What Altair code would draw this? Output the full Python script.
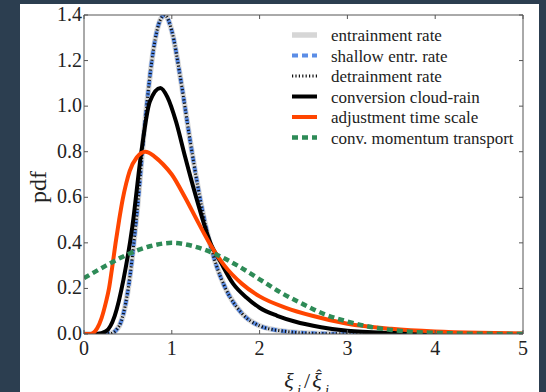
import altair as alt
import pandas as pd

# ---------------- data ----------------
# entrainment / shallow entrainment / detrainment share one curve
ent_x = [0, 0.3, 0.4, 0.5, 0.6, 0.7, 0.8, 0.86, 0.92, 1.0, 1.1, 1.2, 1.3, 1.4, 1.5,
         1.6, 1.8, 2.0, 2.3, 2.6, 3.0, 5.0]
ent_y = [0, 0.002, 0.035, 0.19, 0.52, 0.95, 1.27, 1.37, 1.40, 1.33, 1.12, 0.87, 0.64,
         0.45, 0.31, 0.21, 0.09, 0.036, 0.011, 0.003, 0.0005, 0]

conv_x = [0, 0.15, 0.25, 0.35, 0.45, 0.55, 0.65, 0.75, 0.87, 0.95, 1.05, 1.15, 1.3,
          1.45, 1.55, 1.7, 1.85, 2.0, 2.2, 2.4, 2.7, 3.0, 3.5, 4.0, 5.0]
conv_y = [0, 0, 0.012, 0.08, 0.24, 0.47, 0.79, 1.02, 1.08, 1.04, 0.93, 0.78, 0.57,
          0.39, 0.32, 0.22, 0.16, 0.115, 0.08, 0.055, 0.03, 0.014, 0.005, 0.002, 0]

adj_x = [0, 0.08, 0.1, 0.15, 0.2, 0.25, 0.285, 0.32, 0.36, 0.4, 0.44, 0.48, 0.52, 0.6,
         0.7, 0.8, 0.9, 1.0, 1.15, 1.3, 1.45, 1.6, 1.8, 2.0, 2.3, 2.6, 3.0, 3.5, 4.0,
         4.5, 5.0]
adj_y = [0, 0, 0.003, 0.025, 0.07, 0.14, 0.2, 0.29, 0.40, 0.50, 0.59, 0.66, 0.715, 0.775,
         0.80, 0.78, 0.745, 0.70, 0.60, 0.49, 0.385, 0.30, 0.22, 0.165, 0.115, 0.08,
         0.045, 0.023, 0.011, 0.005, 0.002]

cmt_x = [0, 0.25, 0.5, 0.75, 1.0, 1.25, 1.5, 1.75, 2.0, 2.25, 2.5, 2.75, 3.0, 3.25,
         3.5, 3.75, 4.0, 4.5, 5.0]
cmt_y = [0.245, 0.30, 0.35, 0.385, 0.40, 0.385, 0.35, 0.30, 0.24, 0.18, 0.13, 0.085,
         0.055, 0.032, 0.018, 0.009, 0.005, 0.001, 0.0002]

series_names = ["entrainment rate", "shallow entr. rate", "detrainment rate",
                "conversion cloud-rain", "adjustment time scale",
                "conv. momentum transport"]
series_x = [ent_x, ent_x, ent_x, conv_x, adj_x, cmt_x]
series_y = [ent_y, ent_y, ent_y, conv_y, adj_y, cmt_y]

x_ticks = [0, 1, 2, 3, 4, 5]
y_ticks = [0.0, 0.2, 0.4, 0.6, 0.8, 1.0, 1.2, 1.4]

# ---------------- styles ----------------
styles = [
    dict(color="#d6d6d6", width=5.5, dash=None),
    dict(color="#5b8de6", width=4, dash=[6, 4]),
    dict(color="#111111", width=3, dash=[1.2, 2.2]),
    dict(color="#000000", width=4, dash=None),
    dict(color="#ff4500", width=4, dash=None),
    dict(color="#2e8b57", width=4.5, dash=[6, 4]),
]

W, H = 439, 319
FRAME = "#555555"
SERIF = "Liberation Serif"
TXT = "#222222"
xs = alt.Scale(domain=[0, 5], nice=False, zero=False)
ys = alt.Scale(domain=[0, 1.4], nice=False, zero=False)
dummy = pd.DataFrame({"a": [0]})

layers = []

# white panel
layers.append(alt.Chart(dummy).mark_rect(color="white").encode(
    x=alt.value(-64), x2=alt.value(455), y=alt.value(-11), y2=alt.value(380)))

# curves
for name, sx, sy, st in zip(series_names, series_x, series_y, styles):
    df = pd.DataFrame({"x": sx, "y": sy, "series": name})
    kw = dict(color=st["color"], strokeWidth=st["width"], interpolate="monotone",
              clip=True)
    if st["dash"]:
        kw["strokeDash"] = st["dash"]
    layers.append(alt.Chart(df).mark_line(**kw).encode(
        x=alt.X("x:Q", scale=xs, axis=None),
        y=alt.Y("y:Q", scale=ys, axis=None)))

# frame
for (a, b, c, d) in [(0, W, 0, 0), (0, W, H, H), (0, 0, 0, H), (W, W, 0, H)]:
    layers.append(alt.Chart(dummy).mark_rule(color=FRAME, strokeWidth=1).encode(
        x=alt.value(a), x2=alt.value(b), y=alt.value(c), y2=alt.value(d)))

# inward ticks on all four sides
ydf = pd.DataFrame({"y": y_ticks})
xdf = pd.DataFrame({"x": x_ticks})
for a, b in [(0, 4), (W, W - 4)]:
    layers.append(alt.Chart(ydf).mark_rule(color=FRAME, strokeWidth=1).encode(
        y=alt.Y("y:Q", scale=ys, axis=None), x=alt.value(a), x2=alt.value(b)))
for a, b in [(H, H - 4), (0, 4)]:
    layers.append(alt.Chart(xdf).mark_rule(color=FRAME, strokeWidth=1).encode(
        x=alt.X("x:Q", scale=xs, axis=None), y=alt.value(a), y2=alt.value(b)))

# tick labels
layers.append(alt.Chart(ydf).mark_text(
    font=SERIF, fontSize=20, color=TXT, align="right", baseline="middle").encode(
    y=alt.Y("y:Q", scale=ys, axis=None), x=alt.value(-2),
    text=alt.Text("y:Q", format=".1f")))
layers.append(alt.Chart(xdf).mark_text(
    font=SERIF, fontSize=20, color=TXT, align="center", baseline="top").encode(
    x=alt.X("x:Q", scale=xs, axis=None), y=alt.value(H + 5),
    text=alt.Text("x:Q", format="d")))

# legend (manual, inside upper right)
for i, (name, st) in enumerate(zip(series_names, styles)):
    ry = 20 + 20.5 * i
    kw = dict(color=st["color"], strokeWidth=st["width"])
    if st["dash"]:
        kw["strokeDash"] = st["dash"]
    layers.append(alt.Chart(dummy).mark_rule(**kw).encode(
        x=alt.value(208), x2=alt.value(233), y=alt.value(ry)))
    layers.append(alt.Chart(dummy).mark_text(
        text=name, font=SERIF, fontSize=17, color=TXT, align="left",
        baseline="middle").encode(x=alt.value(247), y=alt.value(ry + 1)))

# y axis title
layers.append(alt.Chart(dummy).mark_text(
    text="pdf", font=SERIF, fontSize=24, color=TXT, angle=270,
    align="center", baseline="middle").encode(x=alt.value(-45), y=alt.value(172)))

# x axis title  xi_j / hat(xi)_j
pieces = [
    ("ξ", 205, 373, 22, "italic"),
    ("j", 215, 380, 14, "italic"),
    ("/", 223, 373, 22, "normal"),
    ("ξ", 233, 373, 22, "italic"),
    ("ˆ", 235, 366, 16, "normal"),
    ("j", 243, 380, 14, "italic"),
]
for t, px, py, fs, fst in pieces:
    layers.append(alt.Chart(dummy).mark_text(
        text=t, font=SERIF, fontSize=fs, fontStyle=fst, color=TXT,
        align="center", baseline="alphabetic").encode(x=alt.value(px), y=alt.value(py)))

chart = alt.layer(*layers).properties(
    width=W, height=H,
    autosize=alt.AutoSizeParams(type="none"),
    padding={"left": 84, "top": 15, "right": 23, "bottom": 58},
    background="#2c3e50",
).configure_view(strokeWidth=0)

chart.save("out.html", embed_options={"renderer": "svg", "actions": False})
